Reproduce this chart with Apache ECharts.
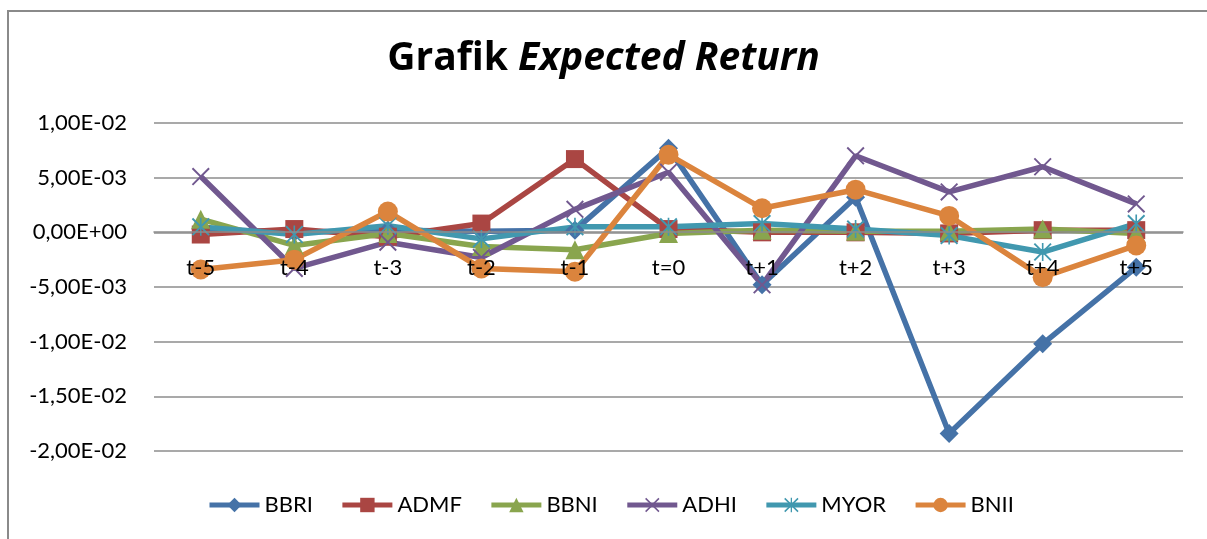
<!DOCTYPE html>
<html lang="id">

<head>
  <meta charset="UTF-8">
  <title>Grafik Expected Return</title>
</head>

<body style="margin:0;background:#fff;">
  <div id="main" style="width: 1207px;height:539px;"></div>
  <script src="https://cdn.jsdelivr.net/npm/echarts@6/dist/echarts.min.js"></script>
  <script>
    const categories = ['t-5', 't-4', 't-3', 't-2', 't-1', 't=0', 't+1', 't+2', 't+3', 't+4', 't+5'];

    const BBRI = [0.0003, 0.0000, 0.0002, 0.0001, 0.0002, 0.0077, -0.0048, 0.0032, -0.0184, -0.0102, -0.0032];
    const ADMF = [-0.0002, 0.0003, -0.0004, 0.0008, 0.0067, 0.0003, 0.0000, 0.0000, -0.0001, 0.0002, 0.0002];
    const BBNI = [0.0012, -0.0012, -0.0001, -0.0013, -0.0016, -0.0001, 0.0002, 0.0001, 0.0001, 0.0003, -0.0001];
    const ADHI = [0.0051, -0.0033, -0.0009, -0.0023, 0.0021, 0.0055, -0.0048, 0.0070, 0.0037, 0.0060, 0.0026];
    const MYOR = [0.0005, -0.0002, 0.0006, -0.0006, 0.0005, 0.0005, 0.0008, 0.0003, -0.0003, -0.0018, 0.0008];
    const BNII = [-0.0034, -0.0025, 0.0019, -0.0033, -0.0036, 0.0071, 0.0022, 0.0039, 0.0015, -0.0041, -0.0012];

    const FONT = 'Lato';

    // bentuk marker ala Excel
    const DIAMOND = 'path://M0,-1L1,0L0,1L-1,0Z';
    const CROSS = 'path://M-1,-0.85L-0.85,-1L1,0.85L0.85,1Z M0.85,-1L1,-0.85L-0.85,1L-1,0.85Z';
    const STAR = 'path://M-1,-0.85L-0.85,-1L1,0.85L0.85,1Z M0.85,-1L1,-0.85L-0.85,1L-1,0.85Z M-0.09,-1L0.09,-1L0.09,1L-0.09,1Z';

    const seriesDefs = [
      { name: 'BBRI', data: BBRI, color: '#4572A7', symbol: DIAMOND, size: 19 },
      { name: 'ADMF', data: ADMF, color: '#AA4643', symbol: 'rect', size: 18 },
      { name: 'BBNI', data: BBNI, color: '#89A54E', symbol: 'triangle', size: 19 },
      { name: 'ADHI', data: ADHI, color: '#71588F', symbol: CROSS, size: 18 },
      { name: 'MYOR', data: MYOR, color: '#4198AF', symbol: STAR, size: 18 },
      { name: 'BNII', data: BNII, color: '#DB843D', symbol: 'circle', size: 20 }
    ];

    // format angka gaya Excel: 1,00E-02
    const sciFormat = (v) => {
      const s = Number(v).toExponential(2);
      const parts = s.split('e');
      const mant = parts[0].replace('.', ',');
      let exp = parseInt(parts[1], 10);
      const sign = exp < 0 ? '-' : '+';
      exp = Math.abs(exp);
      return mant + 'E' + sign + (exp < 10 ? '0' + exp : exp);
    };

    const myChart = echarts.init(document.getElementById('main'));

    const option = {
      backgroundColor: '#fff',
      animation: false,
      textStyle: { fontFamily: FONT },
      title: {
        left: 'center',
        top: 34,
        text: '{a|Grafik }{b|Expected Return}',
        textStyle: {
          rich: {
            a: { fontFamily: 'Open Sans', fontSize: 39, fontWeight: 'bold', color: '#000' },
            b: { fontFamily: 'Open Sans', fontSize: 39, fontWeight: 'bold', fontStyle: 'italic', color: '#000' }
          }
        }
      },
      graphic: [{
        type: 'rect',
        shape: { x: 8, y: 11, width: 1400, height: 700 },
        style: { fill: 'none', stroke: '#8a8a8a', lineWidth: 2 },
        silent: true
      }],
      legend: {
        left: 202,
        top: 489,
        itemWidth: 50,
        itemHeight: 18,
        itemGap: 27,
        lineStyle: { width: 5 },
        textStyle: { fontFamily: FONT, fontSize: 22, color: '#000' },
        data: seriesDefs.map(s => s.name)
      },
      grid: {
        left: 154,
        right: 24,
        top: 123,
        bottom: 88,
        containLabel: false
      },
      xAxis: {
        type: 'category',
        data: categories,
        boundaryGap: true,
        z: 10,
        // sumbu kategori diletakkan di garis nol
        offset: -219,
        axisLine: { onZero: false, lineStyle: { color: '#8c8c8c', width: 1.5 } },
        axisTick: { show: false },
        axisLabel: { color: '#000', fontSize: 22, fontFamily: FONT, margin: 25 }
      },
      yAxis: {
        type: 'value',
        min: -0.02,
        max: 0.01,
        interval: 0.005,
        axisLine: { show: false },
        axisTick: { show: false },
        axisLabel: { color: '#000', fontSize: 22, fontFamily: FONT, margin: 27, formatter: sciFormat },
        splitLine: { lineStyle: { color: '#8c8c8c', width: 1.5 } }
      },
      series: seriesDefs.map(s => ({
        name: s.name,
        type: 'line',
        data: s.data,
        symbol: s.symbol,
        symbolSize: s.size,
        showAllSymbol: true,
        color: s.color,
        lineStyle: { color: s.color, width: 5.5 },
        itemStyle: { color: s.color, borderWidth: 0 }
      }))
    };

    myChart.setOption(option);
  </script>
</body>

</html>
